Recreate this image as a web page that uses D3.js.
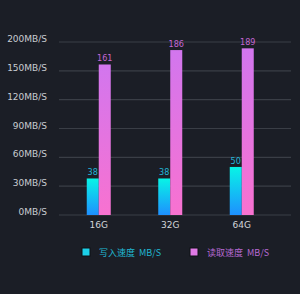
<!DOCTYPE html>
<html>
<head>
<meta charset="utf-8">
<script src="https://cdn.jsdelivr.net/npm/d3@7"></script>
<style>
  html, body { margin: 0; padding: 0; background: #1b1e26; }
  svg { display: block; }
</style>
</head>
<body>
<svg id="chart"></svg>
<script>
// data
const categories = ['16G', '32G', '64G'];
const writeSpeed = [38, 38, 50];
const readSpeed = [161, 186, 189];
const tickValues = [0, 30, 60, 90, 120, 150, 200];
const seriesNames = ['写入速度  MB/S', '读取速度  MB/S'];

const width = 300, height = 294;
const margin = {top: 42, right: 9, bottom: 79, left: 59};

const svg = d3.select('#chart')
    .attr('width', width)
    .attr('height', height);

const defs = svg.append('defs');
const gWrite = defs.append('linearGradient')
    .attr('id', 'gWrite').attr('x1', 0).attr('y1', 0).attr('x2', 0).attr('y2', 1);
gWrite.append('stop').attr('offset', '0%').attr('stop-color', '#08f4e6');
gWrite.append('stop').attr('offset', '100%').attr('stop-color', '#1e90ff');
const gRead = defs.append('linearGradient')
    .attr('id', 'gRead').attr('x1', 0).attr('y1', 0).attr('x2', 0).attr('y2', 1);
gRead.append('stop').attr('offset', '0%').attr('stop-color', '#d276ee');
gRead.append('stop').attr('offset', '100%').attr('stop-color', '#f872d0');

const innerW = width - margin.left - margin.right;
const innerH = height - margin.top - margin.bottom;

const chart = svg.append('g')
    .attr('transform', `translate(${margin.left}, ${margin.top})`);

// ticks are evenly spaced although the labels are not
const yscale = d3.scaleLinear()
    .domain(tickValues)
    .range(tickValues.map((d, i) => innerH - i * innerH / (tickValues.length - 1)));

const xscale = d3.scaleBand()
    .domain(categories)
    .range([4, 4 + 71.5 * 3])
    .padding(0);

// grid lines
chart.selectAll('.grid')
    .data(tickValues)
    .join('line')
    .attr('class', 'grid')
    .attr('x1', 0).attr('x2', innerW)
    .attr('y1', d => yscale(d)).attr('y2', d => yscale(d))
    .attr('stroke', '#3a3e46')
    .attr('stroke-width', 1.2);

// y labels
svg.append('g')
    .attr('transform', `translate(47, ${margin.top})`)
    .selectAll('text')
    .data(tickValues)
    .join('text')
    .attr('y', d => yscale(d))
    .attr('text-anchor', 'end')
    .attr('fill', '#c9ccd1')
    .style('font-family', 'DejaVu Sans')
    .style('font-size', '9px')
    .text(d => d + 'MB/S');

const barW = 12;

const groups = chart.selectAll('.grp')
    .data(categories)
    .join('g')
    .attr('class', 'grp')
    .attr('transform', d => `translate(${xscale(d) + xscale.bandwidth() / 2}, 0)`);

groups.append('rect')
    .attr('x', -barW)
    .attr('width', barW)
    .attr('y', (d, i) => yscale(writeSpeed[i]))
    .attr('height', (d, i) => innerH - yscale(writeSpeed[i]))
    .attr('fill', 'url(#gWrite)');

groups.append('rect')
    .attr('x', 0)
    .attr('width', barW)
    .attr('y', (d, i) => yscale(readSpeed[i]))
    .attr('height', (d, i) => innerH - yscale(readSpeed[i]))
    .attr('fill', 'url(#gRead)');

groups.append('text')
    .attr('x', -barW / 2)
    .attr('y', (d, i) => yscale(writeSpeed[i]) - 3)
    .attr('text-anchor', 'middle')
    .attr('fill', '#22b6d8')
    .style('font-family', 'DejaVu Sans Condensed')
    .style('font-size', '9px')
    .text((d, i) => writeSpeed[i]);

groups.append('text')
    .attr('x', barW / 2)
    .attr('y', (d, i) => yscale(readSpeed[i]) - 3)
    .attr('text-anchor', 'middle')
    .attr('fill', '#c466d4')
    .style('font-family', 'DejaVu Sans Condensed')
    .style('font-size', '9px')
    .text((d, i) => readSpeed[i]);

// x labels
groups.append('text')
    .attr('y', innerH + 13)
    .attr('text-anchor', 'middle')
    .attr('fill', '#d2d5da')
    .style('font-family', 'DejaVu Sans')
    .style('font-size', '9px')
    .text(d => d);

// legend
const legendX = [82, 190];
const legendFill = ['#1ccfe8', '#e07ae6'];
const legendText = ['#20b8d2', '#b86ad2'];
const legend = svg.selectAll('.leg')
    .data(seriesNames)
    .join('g')
    .attr('class', 'leg')
    .attr('transform', (d, i) => `translate(${legendX[i]}, 248)`);

legend.append('rect')
    .attr('width', 8).attr('height', 8)
    .attr('fill', (d, i) => legendFill[i])
    .attr('stroke', '#0e1014')
    .attr('stroke-width', 1);

legend.append('text')
    .attr('x', 17)
    .attr('y', 7.5)
    .attr('fill', (d, i) => legendText[i])
    .style('font-family', '"Noto Sans CJK SC"')
    .style('font-size', '9px')
    .style('white-space', 'pre')
    .text(d => d);
</script>
</body>
</html>
